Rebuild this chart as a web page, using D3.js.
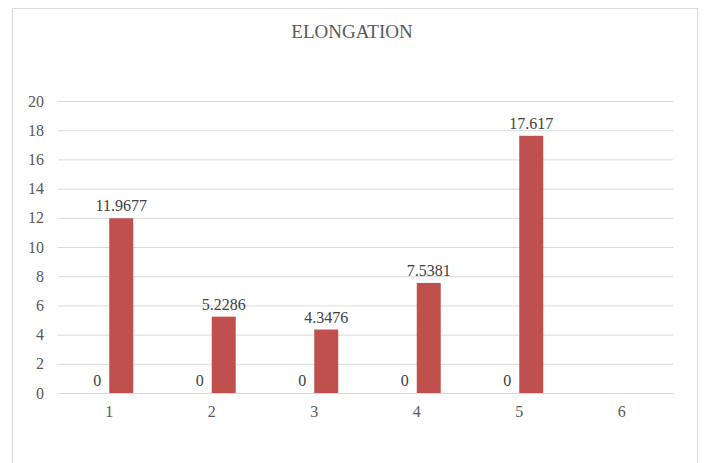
<!DOCTYPE html>
<html><head><meta charset="utf-8">
<script src="https://cdn.jsdelivr.net/npm/d3@7"></script>
<style>body{margin:0;background:#fff}</style>
</head><body>
<svg id="c" width="704" height="463"></svg>
<script>
const title = "ELONGATION";
const categories = ["1","2","3","4","5","6"];
const series1 = [0,0,0,0,0,null];
const series2 = [11.9677,5.2286,4.3476,7.5381,17.617,null];
const series2Labels = ["11.9677","5.2286","4.3476","7.5381","17.617",null];
const yTicks = [0,2,4,6,8,10,12,14,16,18,20];

const svg = d3.select("#c");
const font = "Liberation Serif";
const textCol = "#595959";
svg.append("rect").attr("x",12.5).attr("y",8.5).attr("width",685).attr("height",470)
  .attr("fill","#fff").attr("stroke","#D9D9D9");

const L=58,R=673,T=101,B=393;
const x = d3.scaleBand().domain(categories).range([L,R]);
const y = d3.scaleLinear().domain([0,20]).range([B,T]);
const bw = x.bandwidth()*0.234;
const sub = d3.scaleBand().domain(["s1","s2"]).range([-bw,bw]);

svg.append("text").attr("x",352).attr("y",38).attr("text-anchor","middle")
  .style("font-family",font).style("font-size","19px").attr("fill",textCol).text(title);

const ya = svg.append("g").attr("transform",`translate(${L},0)`)
  .call(d3.axisLeft(y).tickValues(yTicks).tickSize(-(R-L)).tickPadding(14));
ya.select(".domain").remove();
ya.selectAll("line").attr("stroke","#D9D9D9");
ya.selectAll("text").style("font-family",font).style("font-size","16px").attr("fill",textCol);

const xa = svg.append("g").attr("transform",`translate(0,${B})`)
  .call(d3.axisBottom(x).tickSize(0).tickPadding(13));
xa.select(".domain").attr("stroke","#D9D9D9");
xa.selectAll("text").style("font-family",font).style("font-size","16px").attr("fill",textCol);

const c = (i)=>x(categories[i])+x.bandwidth()/2;
svg.append("g").selectAll("rect").data(series2.map((v,i)=>({v,i})).filter(d=>d.v!=null))
  .join("rect")
  .attr("x",d=>c(d.i)+sub("s2")).attr("width",sub.bandwidth())
  .attr("y",d=>y(d.v)).attr("height",d=>y(0)-y(d.v)).attr("fill","#C0504D");

svg.append("g").selectAll("text").data(series2.map((v,i)=>({v,i})).filter(d=>d.v!=null))
  .join("text")
  .attr("x",d=>c(d.i)+sub("s2")+sub.bandwidth()/2).attr("y",d=>y(d.v)-7)
  .attr("text-anchor","middle").style("font-family",font).style("font-size","16px").attr("fill","#404040")
  .text(d=>series2Labels[d.i]);

svg.append("g").selectAll("text").data(series1.map((v,i)=>({v,i})).filter(d=>d.v!=null))
  .join("text")
  .attr("x",d=>c(d.i)+sub("s1")+sub.bandwidth()/2).attr("y",d=>y(d.v)-7)
  .attr("text-anchor","middle").style("font-family",font).style("font-size","16px").attr("fill","#404040")
  .text(d=>String(d.v));
</script>
</body></html>
